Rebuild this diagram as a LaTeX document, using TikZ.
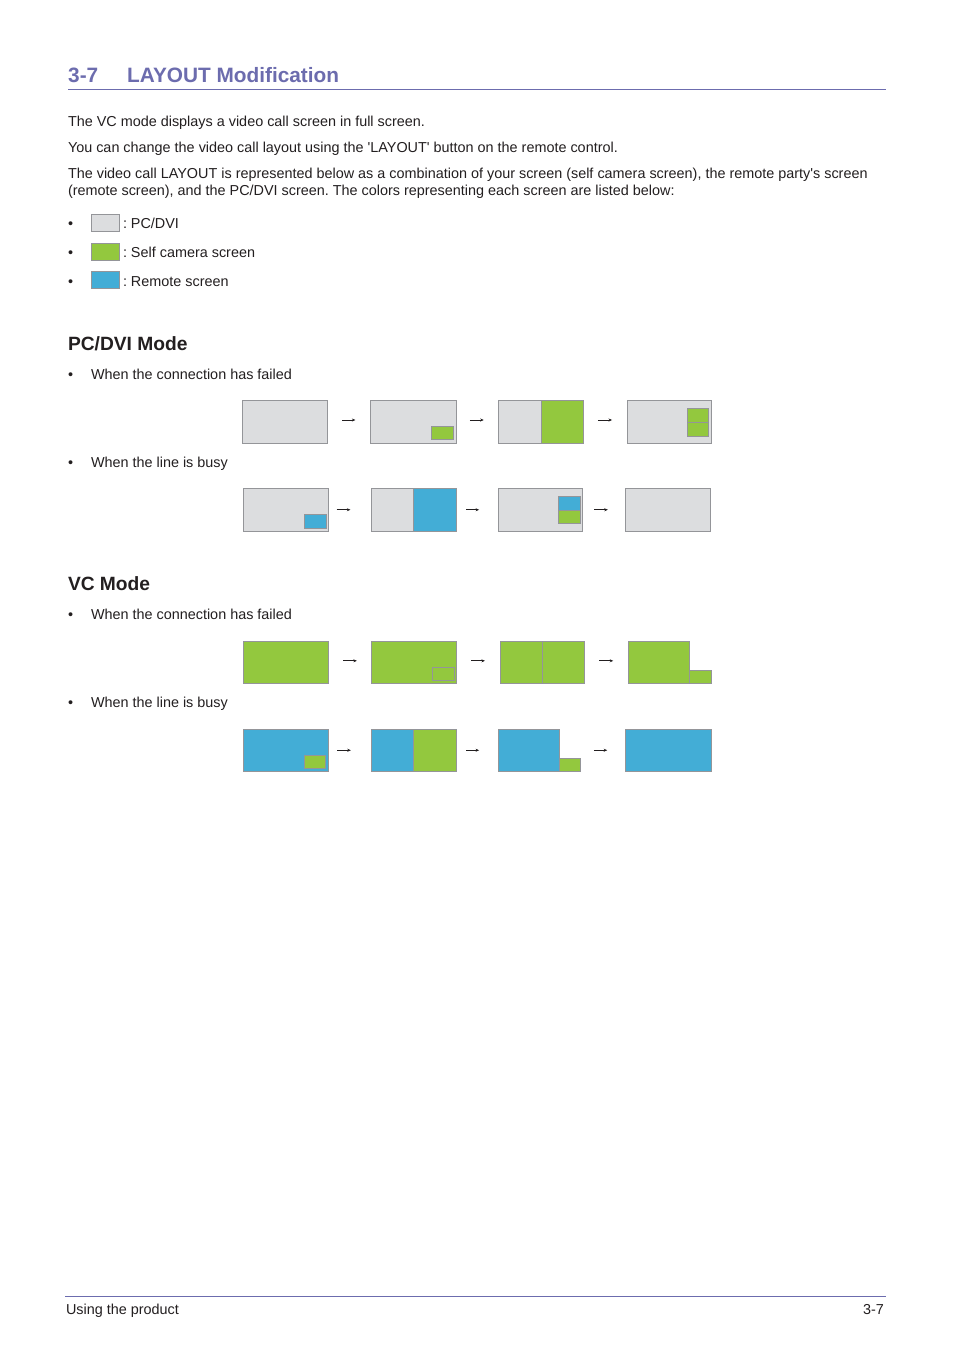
\documentclass[tikz,border=0pt]{standalone}
\usepackage{fontspec}
\newfontfamily\arial{Liberation Sans}
\usetikzlibrary{calc,arrows.meta}
\definecolor{pcgray}{HTML}{DCDDDF}
\definecolor{selfgreen}{HTML}{93C83E}
\definecolor{remblue}{HTML}{43ADD6}
\definecolor{edgec}{HTML}{949599}
\definecolor{titleblue}{HTML}{6C6CAE}
\definecolor{textc}{HTML}{231F20}
\tikzset{
  scr/.style={draw=edgec, line width=0.9pt, inner sep=0pt, outer sep=0pt, anchor=north west},
  txt/.style={anchor=base west, inner sep=0pt, outer sep=0pt, text=textc, font=\arial\fontsize{14.4}{17}\selectfont},
  hd/.style={anchor=base west, inner sep=0pt, outer sep=0pt, text=textc, font=\arial\bfseries\fontsize{19.2}{22}\selectfont},
  arr/.style={draw=textc, line width=0.8pt, -{Stealth[length=3.5pt,width=3pt]}},
}
\frenchspacing
\begin{document}
\begin{tikzpicture}[x=1pt,y=-1pt]
\useasboundingbox[fill=white] (0,0) rectangle (954,1350);

% Title
\node[anchor=base west, inner sep=0pt, text=titleblue, font=\arial\bfseries\fontsize{20.8}{24}\selectfont] (tnum) at (68,82.5) {3-7};
\node[anchor=base west, inner sep=0pt, text=titleblue, font=\arial\bfseries\fontsize{20.8}{24}\selectfont] (ttl) at (127,82.5) {LAYOUT Modification};
\coordinate (rl) at (68,89);
\coordinate (rr) at (886,89);
\draw[titleblue, line width=0.9pt] (rl) -- (rr);

% Body text
\node[txt] (p1) at (68,126) {The VC mode displays a video call screen in full screen.};
\node[txt] (p2) at (68,152) {You can change the video call layout using the 'LAYOUT' button on the remote control.};
\node[txt] (p3) at (68,178) {The video call LAYOUT is represented below as a combination of your screen (self camera screen), the remote party's screen};
\node[txt] (p4) at (68,195) {(remote screen), and the PC/DVI screen. The colors representing each screen are listed below:};

% Legend
\node[txt] (lb1) at (68,228) {•};
\node[scr, fill=pcgray, minimum width=28, minimum height=17] (ls1) at (91,214) {};
\node[txt] (lt1) at (123,228) {: PC/DVI};
\node[txt] (lb2) at (68,257) {•};
\node[scr, fill=selfgreen, minimum width=28, minimum height=17] (ls2) at (91,243) {};
\node[txt] (lt2) at (123,257) {: Self camera screen};
\node[txt] (lb3) at (68,286) {•};
\node[scr, fill=remblue, minimum width=28, minimum height=17] (ls3) at (91,271) {};
\node[txt] (lt3) at (123,286) {: Remote screen};

% PC/DVI Mode
\node[hd] (h1) at (68,350) {PC/DVI Mode};
\node[txt] (b1) at (68,379) {•};
\node[txt] (b1t) at (91,379) {When the connection has failed};
\node[txt] (b2) at (68,467) {•};
\node[txt] (b2t) at (91,467) {When the line is busy};

% Row 1
\node[scr, fill=pcgray, minimum width=85, minimum height=43] (r1a) at (242,400) {};
\node[scr, fill=pcgray, minimum width=86, minimum height=43] (r1b) at (370,400) {};
\node[scr, fill=selfgreen, minimum width=22, minimum height=13] (r1bi) at (431,426) {};
\node[scr, fill=pcgray, minimum width=43, minimum height=43] (r1cl) at (498,400) {};
\node[scr, fill=selfgreen, minimum width=42, minimum height=43] (r1cr) at (541,400) {};
\node[scr, fill=pcgray, minimum width=84, minimum height=43] (r1d) at (627,400) {};
\node[scr, fill=selfgreen, minimum width=21.5, minimum height=14] (r1d1) at (687,408) {};
\node[scr, fill=selfgreen, minimum width=21.5, minimum height=14] (r1d2) at (687,422) {};
\draw[arr] ($([yshift=1.5pt]r1a.east)!0.35!([yshift=1.5pt]r1b.west)$) -- ($([yshift=1.5pt]r1a.east)!0.66!([yshift=1.5pt]r1b.west)$);
\draw[arr] ($([yshift=1.5pt]r1b.east)!0.33!([yshift=1.5pt]r1cl.west)$) -- ($([yshift=1.5pt]r1b.east)!0.66!([yshift=1.5pt]r1cl.west)$);
\draw[arr] ($([yshift=1.5pt]r1cr.east)!0.34!([yshift=1.5pt]r1d.west)$) -- ($([yshift=1.5pt]r1cr.east)!0.66!([yshift=1.5pt]r1d.west)$);

% Row 2
\node[scr, fill=pcgray, minimum width=85, minimum height=43.5] (r2a) at (243,488) {};
\node[scr, fill=remblue, minimum width=22, minimum height=14] (r2ai) at (304,514) {};
\node[scr, fill=pcgray, minimum width=42.5, minimum height=43.5] (r2bl) at (371,488) {};
\node[scr, fill=remblue, minimum width=42.5, minimum height=43.5] (r2br) at (413.5,488) {};
\node[scr, fill=pcgray, minimum width=84, minimum height=43.5] (r2c) at (498,488) {};
\node[scr, fill=remblue, minimum width=22, minimum height=14] (r2c1) at (558,496) {};
\node[scr, fill=selfgreen, minimum width=22, minimum height=13.5] (r2c2) at (558,510) {};
\node[scr, fill=pcgray, minimum width=85, minimum height=43.5] (r2d) at (625,488) {};
\draw[arr] ($(r2a.east)!0.2!(r2bl.west)$) -- ($(r2a.east)!0.52!(r2bl.west)$);
\draw[arr] ($(r2br.east)!0.24!(r2c.west)$) -- ($(r2br.east)!0.55!(r2c.west)$);
\draw[arr] ($(r2c.east)!0.28!(r2d.west)$) -- ($(r2c.east)!0.6!(r2d.west)$);

% VC Mode
\node[hd] (h2) at (68,590) {VC Mode};
\node[txt] (b3) at (68,619) {•};
\node[txt] (b3t) at (91,619) {When the connection has failed};
\node[txt] (b4) at (68,707) {•};
\node[txt] (b4t) at (91,707) {When the line is busy};

% Row 3
\node[scr, fill=selfgreen, minimum width=85, minimum height=42] (r3a) at (243,641) {};
\node[scr, fill=selfgreen, minimum width=85, minimum height=42] (r3b) at (371,641) {};
\node[scr, fill=selfgreen, minimum width=22, minimum height=13] (r3bi) at (432,667) {};
\node[scr, fill=selfgreen, minimum width=42, minimum height=42] (r3cl) at (500.5,641) {};
\node[scr, fill=selfgreen, minimum width=42, minimum height=42] (r3cr) at (542.5,641) {};
\node[scr, fill=selfgreen, minimum width=61, minimum height=42] (r3d) at (628,641) {};
\node[scr, fill=selfgreen, minimum width=22, minimum height=13] (r3di) at (689,670) {};
\draw[arr] ($([yshift=1.2pt]r3a.east)!0.35!([yshift=1.2pt]r3b.west)$) -- ($([yshift=1.2pt]r3a.east)!0.67!([yshift=1.2pt]r3b.west)$);
\draw[arr] ($([yshift=1.2pt]r3b.east)!0.34!([yshift=1.2pt]r3cl.west)$) -- ($([yshift=1.2pt]r3b.east)!0.65!([yshift=1.2pt]r3cl.west)$);
\draw[arr] ($([yshift=1.2pt]r3cr.east)!0.34!([yshift=1.2pt]r3d.west)$) -- ($([yshift=1.2pt]r3cr.east)!0.66!([yshift=1.2pt]r3d.west)$);

% Row 4
\node[scr, fill=remblue, minimum width=85, minimum height=42.5] (r4a) at (243,729) {};
\node[scr, fill=selfgreen, minimum width=21, minimum height=13] (r4ai) at (304,755) {};
\node[scr, fill=remblue, minimum width=42.5, minimum height=42.5] (r4bl) at (371,729) {};
\node[scr, fill=selfgreen, minimum width=42.5, minimum height=42.5] (r4br) at (413.5,729) {};
\node[scr, fill=remblue, minimum width=61, minimum height=42.5] (r4c) at (498,729) {};
\node[scr, fill=selfgreen, minimum width=21.5, minimum height=13.5] (r4ci) at (559,758) {};
\node[scr, fill=remblue, minimum width=86, minimum height=42.5] (r4d) at (625,729) {};
\coordinate (r4s) at (r4ci.east |- r4d.west);
\draw[arr] ($(r4a.east)!0.21!(r4bl.west)$) -- ($(r4a.east)!0.53!(r4bl.west)$);
\draw[arr] ($(r4br.east)!0.24!(r4c.west)$) -- ($(r4br.east)!0.55!(r4c.west)$);
\draw[arr] ($(r4s)!0.3!(r4d.west)$) -- ($(r4s)!0.6!(r4d.west)$);

% Footer
\coordinate (fl) at (65,1296);
\coordinate (fr) at (886,1296);
\draw[titleblue, line width=0.9pt] (fl) -- (fr);
\node[txt] (ft1) at (66,1314) {Using the product};
\node[txt, anchor=base east] (ft2) at (884,1314) {3-7};
\end{tikzpicture}
\end{document}
